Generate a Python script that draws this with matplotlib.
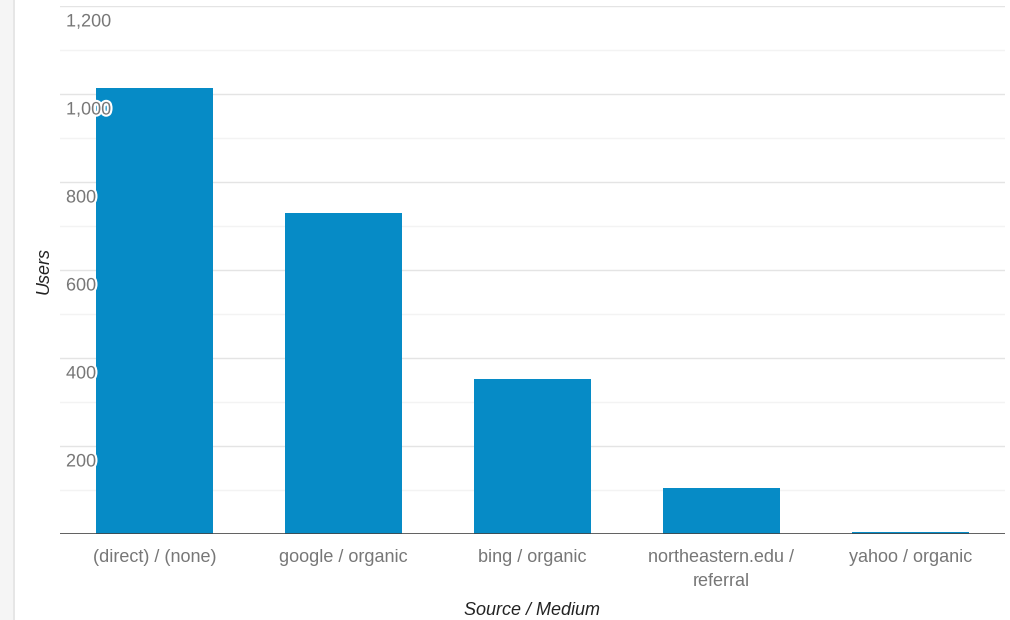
import matplotlib.pyplot as plt
import matplotlib.patheffects as pe
import numpy as np

plt.rcParams['font.family'] = ['Liberation Sans', 'DejaVu Sans']

# Users by source / medium
categories = ['(direct) / (none)', 'google / organic', 'bing / organic',
              'northeastern.edu /\nreferral', 'yahoo / organic']
users = [1014, 730, 352, 104, 5]
y_ticks = [200, 400, 600, 800, 1000, 1200]

fig = plt.figure(figsize=(10.1, 6.2), dpi=100)

# light strip on the left edge
fig.patches.append(plt.Rectangle((0, 0), 13 / 1010, 1, transform=fig.transFigure,
                                 facecolor='#f5f5f5', edgecolor='none'))
fig.lines.append(plt.Line2D([13.5 / 1010, 13.5 / 1010], [0, 1], transform=fig.transFigure,
                            color='#e2e2e2', linewidth=1.2))

ax = fig.add_axes([60 / 1010, 86 / 620, 945 / 1010, 528 / 620])
x = np.arange(len(categories))

# grid lines
for v in np.arange(100, 1201, 200):
    ax.axhline(v, color='#f3f3f3', linewidth=1, zorder=0)
for v in y_ticks:
    ax.axhline(v, color='#e4e4e4', linewidth=1, zorder=0)

ax.bar(x, users, width=0.615, color='#068bc6', zorder=2)
ax.axhline(0, color='#444444', linewidth=1.2, zorder=3)

ax.set_xlim(-0.5, len(categories) - 0.5)
ax.set_ylim(0, 1200)
for s in ax.spines.values():
    s.set_visible(False)
ax.set_yticks([])
ax.set_xticks(x)
ax.set_xticklabels(categories, color='#777777', fontsize=13, linespacing=1.55)
ax.tick_params(axis='x', length=0, pad=10.5)

# y tick labels drawn inside the plot, just under each grid line
for v in y_ticks:
    ax.text(6 / 945, v - 17, f'{v:,}', transform=ax.get_yaxis_transform(),
            ha='left', va='top', fontsize=13, color='#777777', zorder=4,
            path_effects=[pe.withStroke(linewidth=3, foreground='white')])

ax.set_xlabel('Source / Medium', fontstyle='italic', fontsize=13, color='#222222', labelpad=9)
fig.text(44 / 1010, 1 - 270 / 620, 'Users', rotation=90, fontstyle='italic',
         fontsize=13, color='#222222', ha='center', va='center')

fig.savefig('out.png', dpi=100)
